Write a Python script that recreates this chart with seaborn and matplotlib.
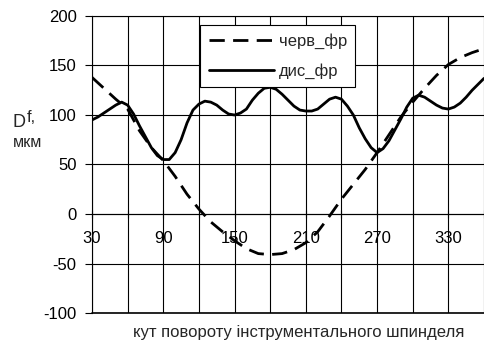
import numpy as np
import pandas as pd
import matplotlib
matplotlib.use("Agg")
import matplotlib.pyplot as plt
from matplotlib.ticker import MultipleLocator, FuncFormatter
import seaborn as sns

# ── data ────────────────────────────────────────────────────────
angles_cherv = [30, 40, 50, 60, 70, 80, 90, 100, 110, 120, 130, 140, 150,
                160, 170, 180, 190, 200, 210, 220, 230, 240, 250, 260, 270,
                280, 290, 300, 310, 320, 330, 340, 350, 360]
cherv_fr = [138, 127, 116, 106, 84, 67, 54, 38, 20, 5, -8, -18, -27,
            -35, -40, -41, -40, -36, -29, -18, -2, 15, 30, 45, 62,
            80, 98, 113, 127, 140, 151, 158, 163, 167]

angles_dys = list(range(30, 361, 5))
dys_fr = [95, 98, 102, 106, 110, 113, 110, 101, 89, 78, 67, 59, 55, 55,
          62, 75, 92, 105, 111, 114, 113, 110, 105, 101, 100, 102, 106,
          115, 122, 127, 128, 126, 121, 115, 109, 105, 104, 104, 106, 111,
          116, 118, 116, 109, 100, 87, 76, 67, 62, 66, 74, 85, 96, 108,
          117, 120, 118, 114, 110, 107, 106, 108, 112, 118, 125, 131, 137]

series_names = ["черв_фр", "дис_фр"]
x_label = "кут повороту інструментального шпинделя"

df = pd.DataFrame({
    "angle": angles_cherv + angles_dys,
    "value": cherv_fr + dys_fr,
    "series": [series_names[0]] * len(angles_cherv) + [series_names[1]] * len(angles_dys),
})

# ── style ───────────────────────────────────────────────────────
sns.set_theme(style="ticks")
plt.rcParams["font.family"] = ["Liberation Sans", "DejaVu Sans"]
plt.rcParams["font.size"] = 12
plt.rcParams["axes.unicode_minus"] = False

fig = plt.figure(figsize=(4.85, 3.44), dpi=100)
ax = fig.add_axes([92 / 485, 1 - 313 / 344, 392 / 485, 297 / 344])

sns.lineplot(data=df, x="angle", y="value", style="series",
             style_order=series_names,
             dashes={series_names[0]: (5.5, 3), series_names[1]: ""},
             color="black", linewidth=2, ax=ax, legend=True)

ax.set_xlim(30, 360)
ax.set_ylim(-100, 200)
ax.xaxis.set_major_locator(MultipleLocator(30))
ax.yaxis.set_major_locator(MultipleLocator(50))
ax.xaxis.set_major_formatter(
    FuncFormatter(lambda v, p: f"{v:.0f}" if (v - 30) % 60 == 0 else ""))
ax.grid(True, color="black", linewidth=0.8)

ax.spines["bottom"].set_position(("data", 0))
ax.spines["right"].set_visible(False)
for s in ["left", "bottom", "top"]:
    ax.spines[s].set_color("black")
    ax.spines[s].set_linewidth(0.8)
ax.axhline(-100, color="black", lw=1.2, clip_on=False)

ax.tick_params(axis="y", direction="out", length=5, width=0.8,
               pad=6, labelsize=12, colors="black")
ax.tick_params(axis="x", direction="inout", length=6, width=0.8,
               pad=9, labelsize=12, colors="black")
ax.set_xlabel("")
ax.set_ylabel("")

handles, labels = ax.get_legend_handles_labels()
leg = ax.legend(handles, labels, loc="upper left",
                bbox_to_anchor=(0.276, 0.97), borderaxespad=0,
                fancybox=False, edgecolor="black", framealpha=1,
                handlelength=3.9, handletextpad=0.3, fontsize=12,
                borderpad=0.5, labelspacing=0.85)
leg.get_frame().set_linewidth(0.8)

# axis captions
fig.text(13 / 485, 1 - 127 / 344, "D", fontsize=13, ha="left", va="baseline")
fig.text(27 / 485, 1 - 122 / 344, "f,", fontsize=12, ha="left", va="baseline")
fig.text(13 / 485, 1 - 147 / 344, "мкм", fontsize=11.5, ha="left", va="baseline")
fig.text(299 / 485, 1 - 333 / 344, x_label, fontsize=12,
         ha="center", va="center")

fig.savefig("out.png", dpi=100, facecolor="white")
